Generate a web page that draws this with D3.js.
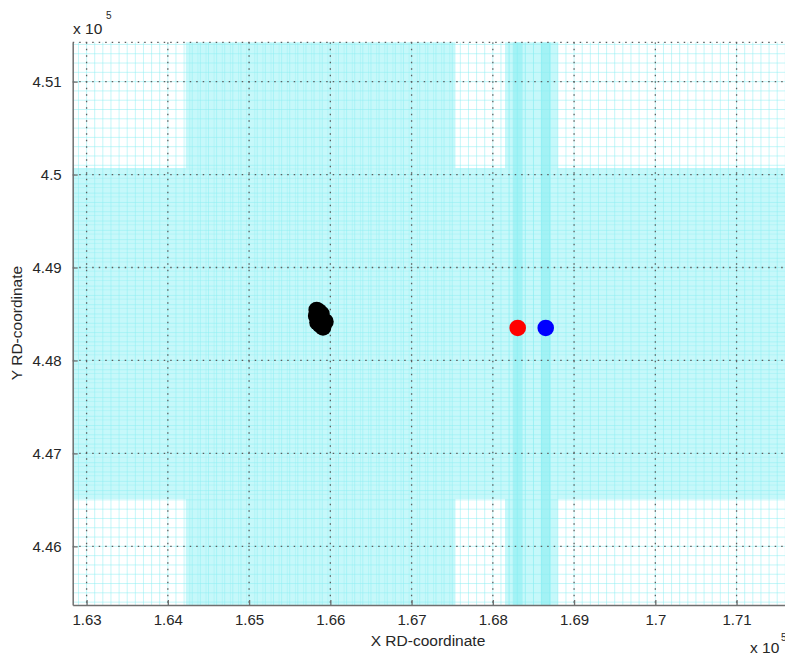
<!DOCTYPE html>
<html><head><meta charset="utf-8">
<script src="https://cdn.jsdelivr.net/npm/d3@7"></script>
<style>
body{margin:0;background:#fff}
svg{display:block}
text{font-family:"Liberation Sans",Arial,sans-serif;fill:#262626}
</style>
</head><body>
<svg id="c" width="785" height="654"></svg>
<script>
// ---- data ----
const xTicks = [163000,164000,165000,166000,167000,168000,169000,170000,171000];
const xTickLabels = ["1.63","1.64","1.65","1.66","1.67","1.68","1.69","1.7","1.71"];
const yTicks = [446000,447000,448000,449000,450000,451000];
const yTickLabels = ["4.46","4.47","4.48","4.49","4.5","4.51"];
const xDomain = [162829,171596];
const yDomain = [445369,451423];

// cluster of black points (RD coordinates)
const clusterX = [165832,165860,165891,165826,165848,165897,165940,165910,165873,165842];
const clusterY = [448543,448527,448500,448479,448436,448446,448417,448355,448382,448409];
// red / blue points
const stationX = [168306,168651];
const stationY = [448350,448350];
const stationColors = ["#ff0000","#0000ff"];

// background raster cells (cyan)
const cellStep = 100;
const xBands = [[164220,167540],[168150,168800]];
const yBands = [[446510,450070]];
const xStripes = [168306,168651];

// ---- layout ----
const svg = d3.select("#c");
const L = 72.7, T = 42.3, B = 605, R = 785;
const x = d3.scaleLinear().domain(xDomain).range([L,R]);
const y = d3.scaleLinear().domain(yDomain).range([B,T]);

const defs = svg.append("defs");
defs.append("clipPath").attr("id","pc")
  .append("rect").attr("x",L).attr("y",T).attr("width",R-L+5).attr("height",B-T);
defs.append("filter").attr("id","soft").attr("x","-5%").attr("y","-5%").attr("width","110%").attr("height","110%")
  .append("feGaussianBlur").attr("stdDeviation",0.7);
const plot = svg.append("g").attr("clip-path","url(#pc)");
const bg = plot.append("g").attr("filter","url(#soft)");

const bandFill = "rgb(198,248,250)";
xBands.forEach(b=>{
  bg.append("rect").attr("x",x(b[0])).attr("width",x(b[1])-x(b[0]))
    .attr("y",T-5).attr("height",B-T+10).attr("fill",bandFill);
});
yBands.forEach(b=>{
  bg.append("rect").attr("x",L-5).attr("width",R-L+15)
    .attr("y",y(b[1])).attr("height",y(b[0])-y(b[1])).attr("fill",bandFill);
});
xStripes.forEach(s=>{
  bg.append("rect").attr("x",x(s-cellStep*0.6)).attr("width",x(s+cellStep*0.6)-x(s-cellStep*0.6))
    .attr("y",T-5).attr("height",B-T+10).attr("fill","rgb(120,236,240)").attr("opacity",0.45);
});

// raster cell lines
const vLines = d3.range(Math.ceil(xDomain[0]/cellStep)*cellStep, xDomain[1]+cellStep, cellStep);
const hLines = d3.range(Math.ceil(yDomain[0]/cellStep)*cellStep, yDomain[1]+cellStep, cellStep);
bg.selectAll(".vl").data(vLines).join("line")
  .attr("x1",d=>x(d)).attr("x2",d=>x(d)).attr("y1",T-5).attr("y2",B+5)
  .attr("stroke","rgb(140,238,242)").attr("stroke-width",1).attr("opacity",0.5);
bg.selectAll(".hl").data(hLines).join("line")
  .attr("y1",d=>y(d)).attr("y2",d=>y(d)).attr("x1",L-5).attr("x2",R+10)
  .attr("stroke","rgb(140,238,242)").attr("stroke-width",1).attr("opacity",0.5);
// offset lines inside dense bands
xBands.forEach(b=>{
  const pos = d3.range(b[0]+cellStep/2, b[1], cellStep);
  bg.selectAll(null).data(pos).join("line")
    .attr("x1",d=>x(d)).attr("x2",d=>x(d)).attr("y1",T-5).attr("y2",B+5)
    .attr("stroke","rgb(140,238,242)").attr("opacity",0.35);
});
yBands.forEach(b=>{
  const pos = d3.range(b[0]+cellStep/2, b[1], cellStep);
  bg.selectAll(null).data(pos).join("line")
    .attr("y1",d=>y(d)).attr("y2",d=>y(d)).attr("x1",L-5).attr("x2",R+10)
    .attr("stroke","rgb(140,238,242)").attr("opacity",0.35);
});

// major dotted grid
const gridCol = "#5e5e5e";
plot.selectAll(".gx").data(xTicks).join("line")
  .attr("x1",d=>x(d)).attr("x2",d=>x(d)).attr("y1",T).attr("y2",B)
  .attr("stroke",gridCol).attr("stroke-width",1.3).attr("stroke-dasharray","1.5,5");
plot.selectAll(".gy").data(yTicks).join("line")
  .attr("y1",d=>y(d)).attr("y2",d=>y(d)).attr("x1",L).attr("x2",R+5)
  .attr("stroke",gridCol).attr("stroke-width",1.3).attr("stroke-dasharray","1.5,5");
// top border (dotted)
svg.append("line").attr("x1",L).attr("x2",R).attr("y1",T).attr("y2",T)
  .attr("stroke",gridCol).attr("stroke-width",1.3).attr("stroke-dasharray","1.5,5");

// points
plot.selectAll(".blk").data(clusterX.map((d,i)=>[d,clusterY[i]])).join("circle")
  .attr("cx",d=>x(d[0])).attr("cy",d=>y(d[1])).attr("r",8.3).attr("fill","#000");
plot.selectAll(".st").data(stationX.map((d,i)=>[d,stationY[i],stationColors[i]])).join("circle")
  .attr("cx",d=>x(d[0])).attr("cy",d=>y(d[1])).attr("r",8.3).attr("fill",d=>d[2]);

// axes
const axCol = "#707070";
const xAxis = d3.axisBottom(x).tickValues(xTicks).tickFormat((d,i)=>xTickLabels[i]).tickSizeInner(-5).tickSizeOuter(0).tickPadding(9);
const gx = svg.append("g").attr("transform",`translate(0,${B})`).call(xAxis);
gx.select(".domain").attr("stroke",axCol).attr("stroke-width",1.5);
gx.selectAll(".tick line").attr("stroke",axCol).attr("stroke-width",1.3);
gx.selectAll(".tick text").attr("font-size",15).attr("fill","#262626").attr("font-family","Liberation Sans, Arial, sans-serif");

const yAxis = d3.axisLeft(y).tickValues(yTicks).tickFormat((d,i)=>yTickLabels[i]).tickSizeInner(-5).tickSizeOuter(0).tickPadding(11);
const gy = svg.append("g").attr("transform",`translate(${L},0)`).call(yAxis);
gy.select(".domain").attr("stroke",axCol).attr("stroke-width",1.5);
gy.selectAll(".tick line").attr("stroke",axCol).attr("stroke-width",1.3);
gy.selectAll(".tick text").attr("font-size",15).attr("fill","#262626").attr("font-family","Liberation Sans, Arial, sans-serif");

// labels
svg.append("text").attr("x",428).attr("y",646).attr("text-anchor","middle").attr("font-size",15.5).text("X RD-coordinate");
svg.append("text").attr("transform","translate(22,323) rotate(-90)").attr("text-anchor","middle").attr("font-size",15.5).text("Y RD-coordinate");
// exponent labels
svg.append("text").attr("x",73).attr("y",34).attr("font-size",15.5).text("x 10");
svg.append("text").attr("x",106).attr("y",19).attr("font-size",10).text("5");
svg.append("text").attr("x",750).attr("y",653).attr("font-size",15.5).text("x 10");
svg.append("text").attr("x",781).attr("y",641).attr("font-size",10).text("5");
</script>
</body></html>
